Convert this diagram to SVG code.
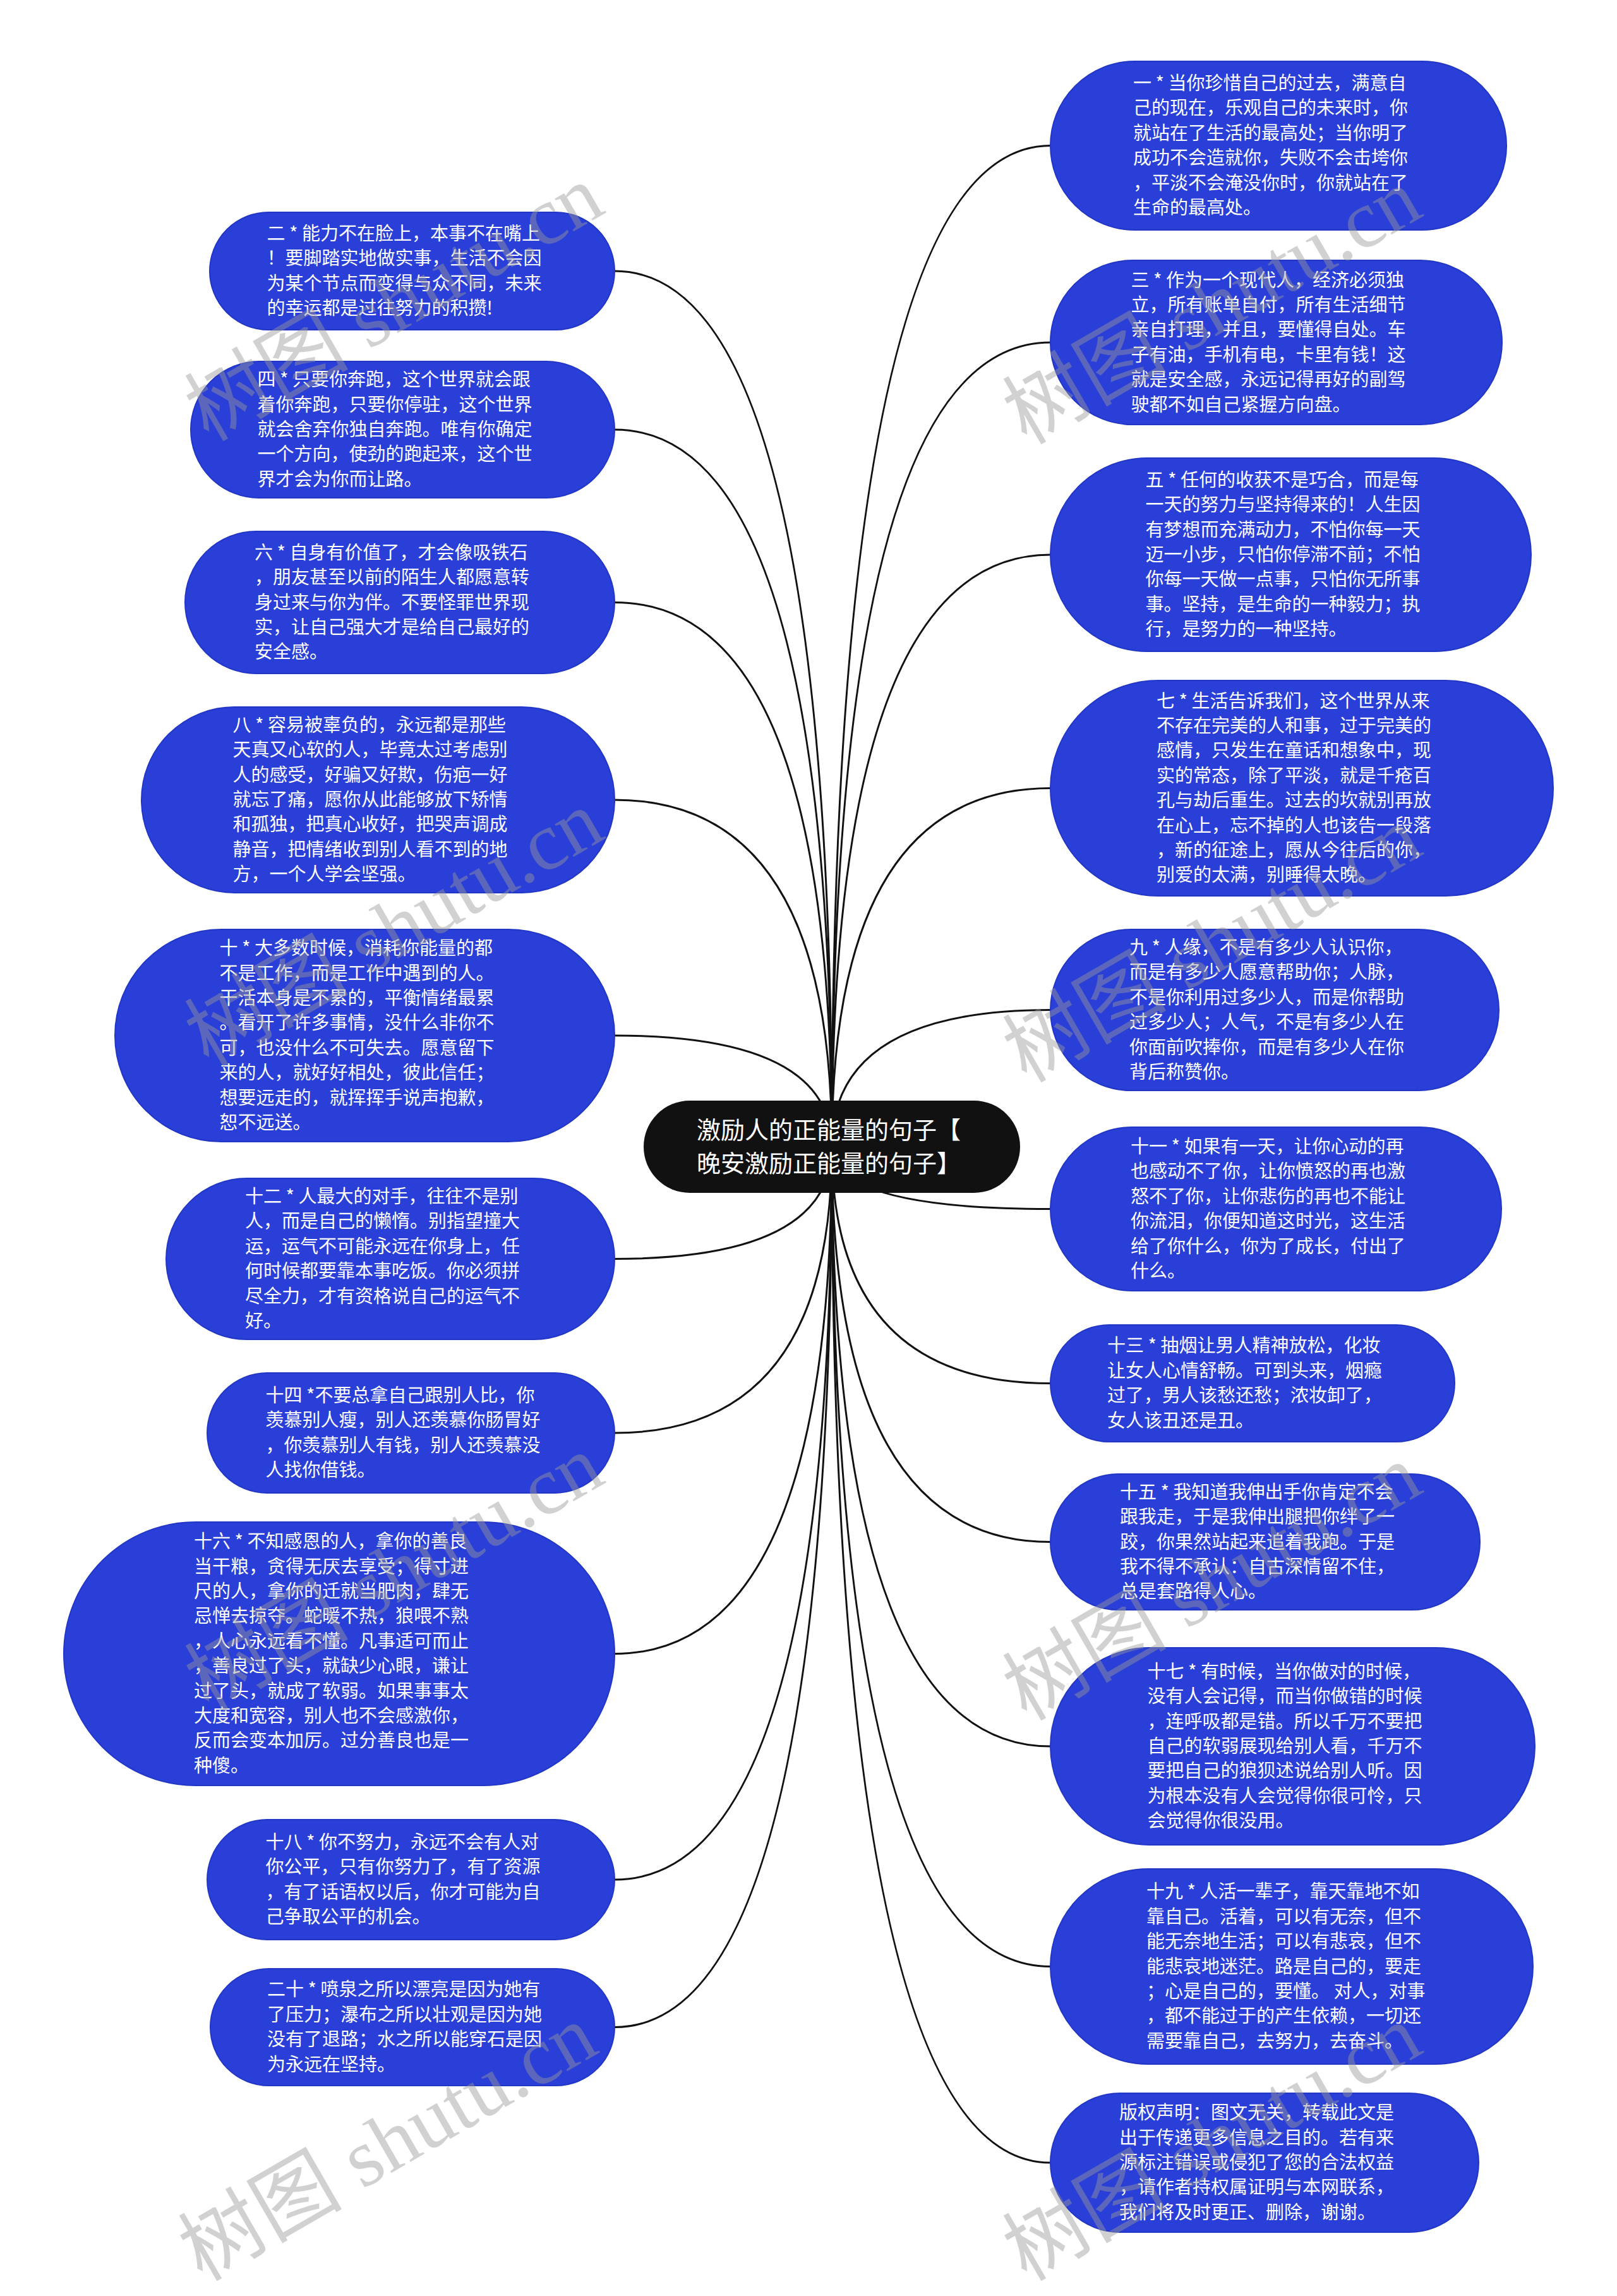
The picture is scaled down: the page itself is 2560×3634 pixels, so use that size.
<svg xmlns="http://www.w3.org/2000/svg" width="2560" height="3634" viewBox="0 0 2560 3634">
<defs>
<style>
.bg{fill:#ffffff}
.conn path{fill:none;stroke:#111111;stroke-width:3}
.node rect{fill:#2a3fd8;stroke:#2236c6;stroke-width:2}
.node text{fill:#ffffff;font-family:"Noto Sans CJK SC","Noto Sans",sans-serif;font-size:29px}
.root rect{fill:#111111;stroke:none}
.root text{fill:#ffffff;font-family:"Noto Sans CJK SC","Noto Sans",sans-serif;font-size:38px}
.wm text{font-family:"Liberation Serif","Noto Sans CJK SC",serif;font-size:130px;fill:#9a9a9a;fill-opacity:0.45}
</style>
</defs>
<rect class="bg" x="0" y="0" width="2560" height="3634"/>
<g class="conn" id="connectors">
<path d="M1317 1815 Q1317 429 973 429"/>
<path d="M1317 1815 Q1317 680 973 680"/>
<path d="M1317 1815 Q1317 953.5 973 953.5"/>
<path d="M1317 1815 Q1317 1266 973 1266"/>
<path d="M1317 1815 Q1317 1639 973 1639"/>
<path d="M1317 1815 Q1317 1992.5 973 1992.5"/>
<path d="M1317 1815 Q1317 2268 973 2268"/>
<path d="M1317 1815 Q1317 2617.5 973 2617.5"/>
<path d="M1317 1815 Q1317 2975 973 2975"/>
<path d="M1317 1815 Q1317 3208.5 973 3208.5"/>
<path d="M1317 1815 Q1317 230.5 1663 230.5"/>
<path d="M1317 1815 Q1317 542 1663 542"/>
<path d="M1317 1815 Q1317 878 1663 878"/>
<path d="M1317 1815 Q1317 1247.5 1663 1247.5"/>
<path d="M1317 1815 Q1317 1598.5 1663 1598.5"/>
<path d="M1317 1815 Q1317 1913.5 1663 1913.5"/>
<path d="M1317 1815 Q1317 2189.5 1663 2189.5"/>
<path d="M1317 1815 Q1317 2440.5 1663 2440.5"/>
<path d="M1317 1815 Q1317 2764 1663 2764"/>
<path d="M1317 1815 Q1317 3112.5 1663 3112.5"/>
<path d="M1317 1815 Q1317 3423 1663 3423"/>
</g>
<g class="root" id="root">
<rect x="1019" y="1742" width="596" height="146" rx="73"/>
<text x="1103" y="1801.5">激励人的正能量的句子【</text>
<text x="1103" y="1854.5">晚安激励正能量的句子】</text>
</g>
<g class="node" id="n2">
<rect x="332" y="336" width="641" height="186" rx="93"/>
<text x="422.5" y="379.9"><tspan x="422.5">二 * 能力不在脸上，本事不在嘴上</tspan><tspan x="422.5" dy="39.4">！要脚踏实地做实事，生活不会因</tspan><tspan x="422.5" dy="39.4">为某个节点而变得与众不同，未来</tspan><tspan x="422.5" dy="39.4">的幸运都是过往努力的积攒!</tspan></text>
</g>
<g class="node" id="n4">
<rect x="302" y="572" width="671" height="216" rx="108"/>
<text x="407.5" y="611.2"><tspan x="407.5">四 * 只要你奔跑，这个世界就会跟</tspan><tspan x="407.5" dy="39.4">着你奔跑，只要你停驻，这个世界</tspan><tspan x="407.5" dy="39.4">就会舍弃你独自奔跑。唯有你确定</tspan><tspan x="407.5" dy="39.4">一个方向，使劲的跑起来，这个世</tspan><tspan x="407.5" dy="39.4">界才会为你而让路。</tspan></text>
</g>
<g class="node" id="n6">
<rect x="293" y="841" width="680" height="225" rx="112.5"/>
<text x="403" y="884.7"><tspan x="403">六 * 自身有价值了，才会像吸铁石</tspan><tspan x="403" dy="39.4">，朋友甚至以前的陌生人都愿意转</tspan><tspan x="403" dy="39.4">身过来与你为伴。不要怪罪世界现</tspan><tspan x="403" dy="39.4">实，让自己强大才是给自己最好的</tspan><tspan x="403" dy="39.4">安全感。</tspan></text>
</g>
<g class="node" id="n8">
<rect x="224" y="1119" width="749" height="294" rx="147"/>
<text x="368.5" y="1157.8"><tspan x="368.5">八 * 容易被辜负的，永远都是那些</tspan><tspan x="368.5" dy="39.4">天真又心软的人，毕竟太过考虑别</tspan><tspan x="368.5" dy="39.4">人的感受，好骗又好欺，伤疤一好</tspan><tspan x="368.5" dy="39.4">就忘了痛，愿你从此能够放下矫情</tspan><tspan x="368.5" dy="39.4">和孤独，把真心收好，把哭声调成</tspan><tspan x="368.5" dy="39.4">静音，把情绪收到别人看不到的地</tspan><tspan x="368.5" dy="39.4">方，一个人学会坚强。</tspan></text>
</g>
<g class="node" id="n10">
<rect x="182" y="1471" width="791" height="336" rx="168"/>
<text x="347.5" y="1511.1"><tspan x="347.5">十 * 大多数时候，消耗你能量的都</tspan><tspan x="347.5" dy="39.4">不是工作，而是工作中遇到的人。</tspan><tspan x="347.5" dy="39.4">干活本身是不累的，平衡情绪最累</tspan><tspan x="347.5" dy="39.4">。看开了许多事情，没什么非你不</tspan><tspan x="347.5" dy="39.4">可，也没什么不可失去。愿意留下</tspan><tspan x="347.5" dy="39.4">来的人，就好好相处，彼此信任；</tspan><tspan x="347.5" dy="39.4">想要远走的，就挥挥手说声抱歉，</tspan><tspan x="347.5" dy="39.4">恕不远送。</tspan></text>
</g>
<g class="node" id="n12">
<rect x="263" y="1865" width="710" height="255" rx="127.5"/>
<text x="388" y="1904"><tspan x="388">十二 * 人最大的对手，往往不是别</tspan><tspan x="388" dy="39.4">人，而是自己的懒惰。别指望撞大</tspan><tspan x="388" dy="39.4">运，运气不可能永远在你身上，任</tspan><tspan x="388" dy="39.4">何时候都要靠本事吃饭。你必须拼</tspan><tspan x="388" dy="39.4">尽全力，才有资格说自己的运气不</tspan><tspan x="388" dy="39.4">好。</tspan></text>
</g>
<g class="node" id="n14">
<rect x="328" y="2173" width="645" height="190" rx="95"/>
<text x="420.5" y="2218.9"><tspan x="420.5">十四 *不要总拿自己跟别人比，你</tspan><tspan x="420.5" dy="39.4">羡慕别人瘦，别人还羡慕你肠胃好</tspan><tspan x="420.5" dy="39.4">，你羡慕别人有钱，别人还羡慕没</tspan><tspan x="420.5" dy="39.4">人找你借钱。</tspan></text>
</g>
<g class="node" id="n16">
<rect x="101" y="2409" width="872" height="417" rx="208.5"/>
<text x="307" y="2450.2"><tspan x="307">十六 * 不知感恩的人，拿你的善良</tspan><tspan x="307" dy="39.4">当干粮，贪得无厌去享受；得寸进</tspan><tspan x="307" dy="39.4">尺的人，拿你的迁就当肥肉，肆无</tspan><tspan x="307" dy="39.4">忌惮去掠夺。蛇暖不热，狼喂不熟</tspan><tspan x="307" dy="39.4">，人心永远看不懂。凡事适可而止</tspan><tspan x="307" dy="39.4">，善良过了头，就缺少心眼，谦让</tspan><tspan x="307" dy="39.4">过了头，就成了软弱。如果事事太</tspan><tspan x="307" dy="39.4">大度和宽容，别人也不会感激你，</tspan><tspan x="307" dy="39.4">反而会变本加厉。过分善良也是一</tspan><tspan x="307" dy="39.4">种傻。</tspan></text>
</g>
<g class="node" id="n18">
<rect x="328" y="2880" width="645" height="190" rx="95"/>
<text x="420.5" y="2925.9"><tspan x="420.5">十八 * 你不努力，永远不会有人对</tspan><tspan x="420.5" dy="39.4">你公平，只有你努力了，有了资源</tspan><tspan x="420.5" dy="39.4">，有了话语权以后，你才可能为自</tspan><tspan x="420.5" dy="39.4">己争取公平的机会。</tspan></text>
</g>
<g class="node" id="n20">
<rect x="333" y="3116" width="640" height="185" rx="92.5"/>
<text x="423" y="3159.4"><tspan x="423">二十 * 喷泉之所以漂亮是因为她有</tspan><tspan x="423" dy="39.4">了压力；瀑布之所以壮观是因为她</tspan><tspan x="423" dy="39.4">没有了退路；水之所以能穿石是因</tspan><tspan x="423" dy="39.4">为永远在坚持。</tspan></text>
</g>
<g class="node" id="n1">
<rect x="1663" y="97" width="722" height="267" rx="133.5"/>
<text x="1794" y="142"><tspan x="1794">一 * 当你珍惜自己的过去，满意自</tspan><tspan x="1794" dy="39.4">己的现在，乐观自己的未来时，你</tspan><tspan x="1794" dy="39.4">就站在了生活的最高处；当你明了</tspan><tspan x="1794" dy="39.4">成功不会造就你，失败不会击垮你</tspan><tspan x="1794" dy="39.4">，平淡不会淹没你时，你就站在了</tspan><tspan x="1794" dy="39.4">生命的最高处。</tspan></text>
</g>
<g class="node" id="n3">
<rect x="1663" y="412" width="715" height="260" rx="130"/>
<text x="1790.5" y="453.5"><tspan x="1790.5">三 * 作为一个现代人，经济必须独</tspan><tspan x="1790.5" dy="39.4">立，所有账单自付，所有生活细节</tspan><tspan x="1790.5" dy="39.4">亲自打理，并且，要懂得自处。车</tspan><tspan x="1790.5" dy="39.4">子有油，手机有电，卡里有钱！这</tspan><tspan x="1790.5" dy="39.4">就是安全感，永远记得再好的副驾</tspan><tspan x="1790.5" dy="39.4">驶都不如自己紧握方向盘。</tspan></text>
</g>
<g class="node" id="n5">
<rect x="1663" y="725" width="761" height="306" rx="153"/>
<text x="1813.5" y="769.8"><tspan x="1813.5">五 * 任何的收获不是巧合，而是每</tspan><tspan x="1813.5" dy="39.4">一天的努力与坚持得来的！人生因</tspan><tspan x="1813.5" dy="39.4">有梦想而充满动力，不怕你每一天</tspan><tspan x="1813.5" dy="39.4">迈一小步，只怕你停滞不前；不怕</tspan><tspan x="1813.5" dy="39.4">你每一天做一点事，只怕你无所事</tspan><tspan x="1813.5" dy="39.4">事。坚持，是生命的一种毅力；执</tspan><tspan x="1813.5" dy="39.4">行，是努力的一种坚持。</tspan></text>
</g>
<g class="node" id="n7">
<rect x="1663" y="1077" width="796" height="341" rx="170.5"/>
<text x="1831" y="1119.6"><tspan x="1831">七 * 生活告诉我们，这个世界从来</tspan><tspan x="1831" dy="39.4">不存在完美的人和事，过于完美的</tspan><tspan x="1831" dy="39.4">感情，只发生在童话和想象中，现</tspan><tspan x="1831" dy="39.4">实的常态，除了平淡，就是千疮百</tspan><tspan x="1831" dy="39.4">孔与劫后重生。过去的坎就别再放</tspan><tspan x="1831" dy="39.4">在心上，忘不掉的人也该告一段落</tspan><tspan x="1831" dy="39.4">，新的征途上，愿从今往后的你，</tspan><tspan x="1831" dy="39.4">别爱的太满，别睡得太晚。</tspan></text>
</g>
<g class="node" id="n9">
<rect x="1663" y="1471" width="710" height="255" rx="127.5"/>
<text x="1788" y="1510"><tspan x="1788">九 * 人缘，不是有多少人认识你，</tspan><tspan x="1788" dy="39.4">而是有多少人愿意帮助你；人脉，</tspan><tspan x="1788" dy="39.4">不是你利用过多少人，而是你帮助</tspan><tspan x="1788" dy="39.4">过多少人；人气，不是有多少人在</tspan><tspan x="1788" dy="39.4">你面前吹捧你，而是有多少人在你</tspan><tspan x="1788" dy="39.4">背后称赞你。</tspan></text>
</g>
<g class="node" id="n11">
<rect x="1663" y="1784" width="714" height="259" rx="129.5"/>
<text x="1790" y="1825"><tspan x="1790">十一 * 如果有一天，让你心动的再</tspan><tspan x="1790" dy="39.4">也感动不了你，让你愤怒的再也激</tspan><tspan x="1790" dy="39.4">怒不了你，让你悲伤的再也不能让</tspan><tspan x="1790" dy="39.4">你流泪，你便知道这时光，这生活</tspan><tspan x="1790" dy="39.4">给了你什么，你为了成长，付出了</tspan><tspan x="1790" dy="39.4">什么。</tspan></text>
</g>
<g class="node" id="n13">
<rect x="1663" y="2097" width="640" height="185" rx="92.5"/>
<text x="1753" y="2140.4"><tspan x="1753">十三 * 抽烟让男人精神放松，化妆</tspan><tspan x="1753" dy="39.4">让女人心情舒畅。可到头来，烟瘾</tspan><tspan x="1753" dy="39.4">过了，男人该愁还愁；浓妆卸了，</tspan><tspan x="1753" dy="39.4">女人该丑还是丑。</tspan></text>
</g>
<g class="node" id="n15">
<rect x="1663" y="2333" width="680" height="215" rx="107.5"/>
<text x="1773" y="2371.7"><tspan x="1773">十五 * 我知道我伸出手你肯定不会</tspan><tspan x="1773" dy="39.4">跟我走，于是我伸出腿把你绊了一</tspan><tspan x="1773" dy="39.4">跤，你果然站起来追着我跑。于是</tspan><tspan x="1773" dy="39.4">我不得不承认：自古深情留不住，</tspan><tspan x="1773" dy="39.4">总是套路得人心。</tspan></text>
</g>
<g class="node" id="n17">
<rect x="1663" y="2608" width="767" height="312" rx="156"/>
<text x="1816.5" y="2655.8"><tspan x="1816.5">十七 * 有时候，当你做对的时候，</tspan><tspan x="1816.5" dy="39.4">没有人会记得，而当你做错的时候</tspan><tspan x="1816.5" dy="39.4">，连呼吸都是错。所以千万不要把</tspan><tspan x="1816.5" dy="39.4">自己的软弱展现给别人看，千万不</tspan><tspan x="1816.5" dy="39.4">要把自己的狼狈述说给别人听。因</tspan><tspan x="1816.5" dy="39.4">为根本没有人会觉得你很可怜，只</tspan><tspan x="1816.5" dy="39.4">会觉得你很没用。</tspan></text>
</g>
<g class="node" id="n19">
<rect x="1663" y="2958" width="764" height="309" rx="154.5"/>
<text x="1815" y="3004.3"><tspan x="1815">十九 * 人活一辈子，靠天靠地不如</tspan><tspan x="1815" dy="39.4">靠自己。活着，可以有无奈，但不</tspan><tspan x="1815" dy="39.4">能无奈地生活；可以有悲哀，但不</tspan><tspan x="1815" dy="39.4">能悲哀地迷茫。路是自己的，要走</tspan><tspan x="1815" dy="39.4">；心是自己的，要懂。 对人，对事</tspan><tspan x="1815" dy="39.4">，都不能过于的产生依赖，一切还</tspan><tspan x="1815" dy="39.4">需要靠自己，去努力，去奋斗。</tspan></text>
</g>
<g class="node" id="ncopyright">
<rect x="1663" y="3313" width="678" height="220" rx="110"/>
<text x="1772" y="3354.2"><tspan x="1772">版权声明：图文无关，转载此文是</tspan><tspan x="1772" dy="39.4">出于传递更多信息之目的。若有来</tspan><tspan x="1772" dy="39.4">源标注错误或侵犯了您的合法权益</tspan><tspan x="1772" dy="39.4">，请作者持权属证明与本网联系，</tspan><tspan x="1772" dy="39.4">我们将及时更正、删除，谢谢。</tspan></text>
</g>
<g class="wm" id="watermarks">
<text transform="translate(330,700) rotate(-30)">树图 shutu.cn</text>
<text transform="translate(1625,705) rotate(-30)">树图 shutu.cn</text>
<text transform="translate(330,1690) rotate(-30)">树图 shutu.cn</text>
<text transform="translate(1625,1715) rotate(-30)">树图 shutu.cn</text>
<text transform="translate(330,2710) rotate(-30)">树图 shutu.cn</text>
<text transform="translate(1625,2725) rotate(-30)">树图 shutu.cn</text>
<text transform="translate(320,3612) rotate(-30)">树图 shutu.cn</text>
<text transform="translate(1625,3612) rotate(-30)">树图 shutu.cn</text>
</g>
</svg>
